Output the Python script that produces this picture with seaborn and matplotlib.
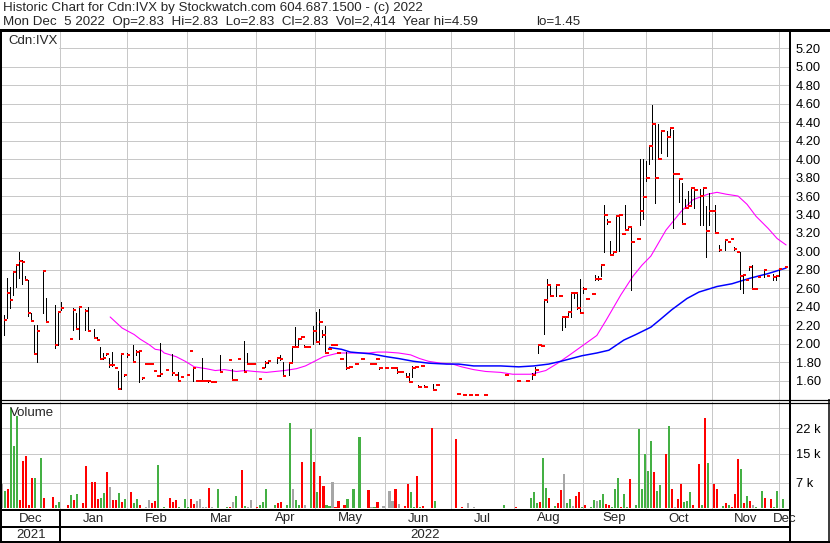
import numpy as np
import pandas as pd
import seaborn as sns
import matplotlib
matplotlib.use("Agg")
import matplotlib.pyplot as plt
from matplotlib.patches import Rectangle

# trading sessions, counted as weekdays from Mon 6 Dec 2021
day = [0, 1, 2, 3, 4, 5, 6, 7, 8, 9, 10, 11, 13, 14, 17, 18, 19,
       22, 23, 24, 25, 27, 28, 30, 31, 32, 33, 34, 35, 36, 37, 38, 39, 40,
       41, 43, 44, 45, 46, 47, 48, 49, 50, 51, 52, 54, 56, 57, 58, 59,
       61, 62, 63, 64, 65, 66, 67, 68, 69, 70, 72, 75, 76, 77, 78, 80, 81, 82, 83,
       85, 86, 87, 88, 91, 92, 93, 95, 96, 97, 98, 99, 100, 101, 103,
       104, 105, 106, 107, 108, 109, 110, 111, 112, 114, 115, 117, 119, 122, 123, 124, 125, 127,
       129, 130, 131, 132, 134, 135, 136, 137, 138, 139, 140, 143, 144,
       151, 153, 155, 157, 160, 167,
       171, 174, 176, 177, 178, 179, 180, 181, 182, 184, 185, 186, 187, 188, 189, 190, 191, 192,
       193, 194, 196, 197, 198, 199, 200, 201, 202, 203, 204, 205, 206, 207, 208, 209, 211, 212, 213, 214,
       215, 216, 217, 218, 219, 221, 222, 223, 224, 225, 226, 227, 228, 229, 230, 232, 233, 234, 235,
       236, 237, 238, 240, 241, 242, 243, 244, 245, 246, 247, 248, 249, 250, 251, 253, 254, 256, 257, 258,
       260]

high = [2.31, 2.71, 2.61, 2.79, 2.86, 2.99, 2.91, 2.73, 2.69, 2.33, 2.20, 2.20, 2.80, 2.50, 2.42, 2.34, 2.45,
        2.06, 2.39, 2.33, 2.40, 2.38, 2.40, 2.16, 2.07, 1.97, 1.90, 1.90, 1.85, 1.91, 1.74, 1.70, 1.89, 1.67,
        1.90, 1.99, 1.93, 1.93, 1.64, 1.78, 1.78, 1.78, 1.71, 1.65, 2.01, 1.72, 1.89, 1.66, 1.69, 1.64,
        1.66, 1.92, 1.75, 1.60, 1.60, 1.85, 1.60, 1.61, 1.59, 1.59, 1.88, 1.82, 1.73, 1.61, 1.85, 2.03, 1.90, 1.78, 1.78,
        1.62, 1.74, 1.81, 1.81, 1.86, 1.88, 1.80, 1.79, 1.97, 2.18, 2.06, 2.08, 1.99, 1.97, 2.19,
        2.34, 2.38, 2.15, 2.19, 1.94, 1.99, 1.99, 1.90, 1.83, 1.91, 1.75, 1.78, 1.83, 1.78, 1.78, 1.83, 1.75, 1.74,
        1.74, 1.74, 1.74, 1.69, 1.68, 1.68, 1.76, 1.75, 1.55, 1.76, 1.55, 1.56, 1.55,
        1.46, 1.45, 1.45, 1.45, 1.45, 1.66,
        1.60, 1.60, 1.68, 1.75, 2.00, 1.98, 2.47, 2.70, 2.64, 2.64, 2.52, 2.29, 2.29, 2.34, 2.55, 2.55, 2.55, 2.70,
        2.62, 2.49, 2.54, 2.74, 2.73, 2.85, 3.50, 3.35, 3.11, 3.00, 3.39, 3.39, 3.19, 3.50, 3.27, 3.26, 3.13, 4.00, 4.00, 3.98,
        4.14, 4.59, 4.38, 4.38, 4.32, 4.30, 4.34, 4.32, 3.84, 3.79, 3.74, 3.57, 3.65, 3.70, 3.69, 3.68, 3.69, 3.49, 3.63,
        3.44, 3.50, 3.07, 3.12, 3.10, 3.13, 3.05, 3.00, 2.99, 2.76, 2.69, 2.84, 2.85, 2.59, 2.72, 2.80, 2.73, 2.76, 2.73, 2.81,
        2.83]

low = [2.09, 2.28, 2.39, 2.53, 2.61, 2.71, 2.65, 2.69, 2.30, 2.25, 1.89, 1.80, 2.33, 2.24, 1.95, 1.99, 2.37,
       2.05, 2.15, 2.16, 2.05, 2.15, 2.14, 2.06, 2.04, 1.84, 1.84, 1.88, 1.75, 1.76, 1.74, 1.51, 1.51, 1.65,
       1.86, 1.80, 1.88, 1.59, 1.62, 1.78, 1.78, 1.78, 1.70, 1.65, 1.65, 1.72, 1.66, 1.66, 1.60, 1.64,
       1.66, 1.92, 1.60, 1.60, 1.60, 1.60, 1.60, 1.59, 1.59, 1.59, 1.69, 1.82, 1.61, 1.61, 1.84, 1.69, 1.78, 1.78, 1.78,
       1.62, 1.74, 1.75, 1.79, 1.79, 1.82, 1.65, 1.66, 1.79, 1.97, 1.97, 2.05, 1.97, 1.97, 2.00,
       2.02, 2.00, 2.07, 1.90, 1.94, 1.99, 1.99, 1.90, 1.83, 1.73, 1.75, 1.78, 1.83, 1.78, 1.78, 1.83, 1.73, 1.74,
       1.74, 1.74, 1.68, 1.69, 1.64, 1.59, 1.64, 1.75, 1.53, 1.76, 1.53, 1.50, 1.55,
       1.46, 1.45, 1.45, 1.45, 1.45, 1.66,
       1.60, 1.60, 1.62, 1.66, 1.90, 1.98, 2.11, 2.45, 2.52, 2.52, 2.52, 2.15, 2.18, 2.31, 2.29, 2.50, 2.38, 2.33,
       2.55, 2.49, 2.54, 2.69, 2.69, 2.73, 2.99, 3.30, 2.96, 2.97, 2.99, 3.00, 3.19, 3.23, 3.24, 2.58, 3.13, 3.29, 3.35, 3.76,
       3.95, 4.00, 3.52, 4.00, 4.07, 4.03, 4.24, 3.25, 3.84, 3.54, 3.30, 3.47, 3.48, 3.50, 3.47, 3.29, 3.29, 2.94, 3.29,
       3.44, 3.20, 3.00, 3.02, 3.10, 3.13, 3.02, 2.99, 2.59, 2.55, 2.69, 2.80, 2.59, 2.59, 2.72, 2.72, 2.73, 2.69, 2.69, 2.73,
       2.83]

close = [2.26, 2.55, 2.47, 2.78, 2.85, 2.90, 2.89, 2.69, 2.33, 2.25, 1.89, 2.14, 2.79, 2.24, 1.99, 2.34, 2.39,
         2.05, 2.37, 2.16, 2.40, 2.36, 2.14, 2.06, 2.04, 1.84, 1.85, 1.89, 1.77, 1.77, 1.74, 1.51, 1.89, 1.66,
         1.88, 1.80, 1.91, 1.92, 1.63, 1.78, 1.78, 1.78, 1.70, 1.65, 1.67, 1.72, 1.68, 1.66, 1.60, 1.64,
         1.66, 1.92, 1.74, 1.60, 1.60, 1.60, 1.60, 1.60, 1.59, 1.59, 1.69, 1.82, 1.61, 1.61, 1.84, 1.69, 1.78, 1.78, 1.78,
         1.62, 1.74, 1.79, 1.81, 1.85, 1.83, 1.65, 1.79, 1.97, 1.97, 2.05, 2.07, 1.97, 1.97, 2.14,
         2.02, 2.24, 2.09, 1.90, 1.94, 1.99, 1.99, 1.90, 1.83, 1.74, 1.75, 1.78, 1.83, 1.78, 1.78, 1.83, 1.74, 1.74,
         1.74, 1.74, 1.69, 1.69, 1.64, 1.59, 1.74, 1.75, 1.53, 1.76, 1.53, 1.50, 1.55,
         1.46, 1.45, 1.45, 1.45, 1.45, 1.66,
         1.60, 1.60, 1.66, 1.72, 1.99, 1.98, 2.47, 2.64, 2.52, 2.64, 2.52, 2.29, 2.29, 2.34, 2.55, 2.55, 2.39, 2.33,
         2.59, 2.49, 2.54, 2.70, 2.70, 2.85, 3.39, 3.32, 2.96, 2.99, 3.38, 3.39, 3.19, 3.23, 3.26, 3.10, 3.13, 3.44, 3.59, 3.79,
         4.14, 4.38, 3.79, 4.00, 4.30, 4.24, 4.34, 3.84, 3.84, 3.78, 3.30, 3.47, 3.49, 3.69, 3.67, 3.60, 3.69, 3.22, 3.44,
         3.44, 3.20, 3.01, 3.12, 3.10, 3.13, 3.03, 2.99, 2.73, 2.74, 2.69, 2.83, 2.59, 2.59, 2.72, 2.80, 2.73, 2.72, 2.73, 2.81,
         2.83]

# volume in thousands of shares
volume = [6.5, 4.7, 5.2, 27.7, 17.1, 25.5, 2.2, 13.0, 14.4, 0.8, 8.4, 8.4, 13.9, 2.8, 3.1, 0.8, 1.7,
          0.8, 3.6, 2.2, 3.9, 1.5, 11.6, 7.3, 7.3, 2.6, 2.8, 4.2, 9.9, 5.9, 2.2, 2.2, 4.2, 1.7,
          2.5, 4.4, 1.5, 2.4, 0.8, 0.1, 0.4, 2.2, 1.5, 1.9, 11.9, 0.2, 2.8, 1.6, 2.2, 0.3,
          2.5, 0.2, 2.5, 1.1, 1.9, 2.5, 0.2, 0.2, 5.6, 0.3, 5.2, 0.2, 0.2, 1.7, 3.3, 10.5, 0.6, 0.2, 2.2,
          0.3, 0.8, 1.7, 5.2, 0.8, 1.3, 1.6, 0.8, 23.6, 5.2, 2.2, 0.8, 12.8, 0.8, 21.9,
          12.8, 4.4, 8.9, 6.2, 0.8, 0.5, 7.2, 0.3, 1.9, 0.8, 2.5, 5.2, 19.6, 5.0, 0.2, 0.2, 1.7, 0.6,
          4.7, 1.9, 5.2, 1.0, 0.6, 6.5, 4.3, 0.2, 8.8, 0.2, 0.6, 22.2, 1.9,
          19.1, 0.2, 1.5, 0.3, 0.1, 0.8,
          0.2, 0.1, 2.8, 4.4, 1.3, 1.7, 13.9, 5.4, 2.8, 0.5, 1.3, 5.0, 9.4, 1.3, 2.5, 0.5, 3.4, 4.4,
          0.3, 0.8, 0.3, 2.2, 2.0, 2.2, 3.8, 1.1, 0.8, 0.2, 5.2, 8.4, 0.2, 3.9, 0.3, 8.0, 0.8, 21.8, 5.2, 14.8,
          10.2, 18.5, 9.9, 4.7, 6.4, 14.9, 22.7, 5.2, 0.2, 2.6, 6.6, 1.7, 1.9, 4.4, 0.8, 12.2, 0.8, 24.9, 12.4,
          0.1, 6.6, 5.2, 0.5, 1.4, 0.8, 0.2, 3.9, 13.5, 10.8, 1.5, 3.3, 1.9, 0.8, 0.3, 4.7, 2.8, 2.6, 0.2, 4.7,
          2.4]

# moving averages (session, price)
ma_fast_day = [36, 40, 44, 46, 48, 49, 51, 53, 54, 58, 61, 64, 68, 71, 74, 78, 81, 84, 88, 91, 94, 98,
               101, 104, 107, 112, 116, 122, 125, 128, 132, 136, 139, 142, 146, 150, 153, 157, 161, 166,
               170, 176, 181, 185, 189, 195, 198, 201, 206, 210, 213, 216, 221, 226, 230, 235, 238, 241,
               245, 248, 251, 255, 258, 261]
ma_fast = [2.29, 2.17, 2.10, 2.05, 2.01, 1.99, 1.94, 1.93, 1.90, 1.86, 1.81, 1.75, 1.73, 1.71, 1.72, 1.70,
           1.71, 1.70, 1.69, 1.70, 1.71, 1.73, 1.76, 1.81, 1.86, 1.90, 1.90, 1.90, 1.91, 1.91, 1.90, 1.88,
           1.84, 1.81, 1.79, 1.78, 1.75, 1.72, 1.70, 1.69, 1.67, 1.67, 1.71, 1.79, 1.88, 2.02, 2.09, 2.25,
           2.53, 2.73, 2.85, 2.95, 3.23, 3.43, 3.56, 3.62, 3.64, 3.62, 3.60, 3.51, 3.38, 3.25, 3.14, 3.07]

ma_slow_day = [109, 113, 116, 123, 128, 132, 137, 142, 148, 152, 157, 166, 172, 177, 182, 186, 193, 198,
               202, 207, 211, 216, 219, 223, 228, 232, 238, 243, 249, 255, 261]
ma_slow = [1.96, 1.94, 1.91, 1.89, 1.86, 1.84, 1.81, 1.79, 1.78, 1.78, 1.76, 1.76, 1.75, 1.76, 1.78, 1.81,
           1.87, 1.90, 1.93, 2.04, 2.10, 2.18, 2.26, 2.37, 2.49, 2.56, 2.62, 2.65, 2.71, 2.76, 2.82]

month_names = ["Dec", "Jan", "Feb", "Mar", "Apr", "May", "Jun", "Jul", "Aug", "Sep", "Oct", "Nov", "Dec"]
price_ticks = [1.60, 1.80, 2.00, 2.20, 2.40, 2.60, 2.80, 3.00, 3.20, 3.40, 3.60, 3.80,
               4.00, 4.20, 4.40, 4.60, 4.80, 5.00, 5.20]
vol_ticks = [7, 15, 22]
vol_labels = ["7 k", "15 k", "22 k"]

title1 = "Historic Chart for Cdn:IVX by Stockwatch.com 604.687.1500 - (c) 2022"
title2 = "Mon Dec  5 2022  Op=2.83  Hi=2.83  Lo=2.83  Cl=2.83  Vol=2,414  Year hi=4.59"
title2_tail = "lo=1.45"

# ---------------------------------------------------------------------------
sns.set_style("white")
plt.rcParams['font.family'] = ['Liberation Sans', 'DejaVu Sans']

W, H = 830, 543
PT = 0.72  # points per pixel at 100 dpi
fig = plt.figure(figsize=(W / 100, H / 100), dpi=100)

df = pd.DataFrame({"day": day, "high": high, "low": low, "close": close, "vol": volume})
chg = df["close"].diff()
df["col"] = np.where(chg > 0, "#44b044", np.where(chg < 0, "#ff0000", "#a6a6a6"))

# month boundaries on the weekday axis
sessions = pd.bdate_range("2021-12-06", "2022-12-05")
bounds = []
for m in pd.date_range("2022-01-01", "2022-12-01", freq="MS"):
    k = int(np.searchsorted(sessions, m))
    bounds.append(k + 0.5 if m.weekday() < 5 else k - 0.75)
x0, x1 = 0.0, 262.3


def px(x):
    return 2 + (x - x0) / (x1 - x0) * 788


ax_p = fig.add_axes([2 / W, 1 - 400 / H, 788 / W, 369 / H])
ax_v = fig.add_axes([2 / W, 1 - 509 / H, 788 / W, 107 / H])

for ax in (ax_p, ax_v):
    ax.set_xlim(x0, x1)
    ax.set_xticks(bounds)
    ax.tick_params(axis='x', length=0, labelbottom=False)
    ax.grid(True, color="#c8c8c8", lw=1 * PT, antialiased=False)
    ax.set_axisbelow(True)
    for s in ax.spines.values():
        s.set_visible(False)
    ax.yaxis.tick_right()
    ax.tick_params(axis='y', length=0, pad=4, labelsize=9.3, labelcolor='black')

# price panel
ax_p.set_ylim(1.391, 5.387)
ax_p.set_yticks(price_ticks)
ax_p.set_yticklabels(["%.2f" % v for v in price_ticks])
sns.lineplot(x=ma_fast_day, y=ma_fast, ax=ax_p, color="#ff00ff", lw=1.1 * PT)
sns.lineplot(x=ma_slow_day, y=ma_slow, ax=ax_p, color="#0000ff", lw=1.5 * PT)
ax_p.vlines(df["day"] + 0.5, df["low"], df["high"], color="black", lw=1.0 * PT,
            antialiased=False, zorder=3)
ax_p.hlines(df["close"], df["day"] + 0.5, df["day"] + 1.7, color="#ff0000", lw=2.0 * PT,
            antialiased=False, zorder=4)
ax_p.set_xlabel("")
ax_p.set_ylabel("")

# volume panel
ax_v.bar(df["day"], df["vol"], width=0.7, color=df["col"], linewidth=0,
         antialiased=False, zorder=3)
ax_v.set_ylim(-0.28, 29.3)
ax_v.set_yticks(vol_ticks)
ax_v.set_yticklabels(vol_labels)

# frame, headings and date rows drawn in pixel space
ov = fig.add_axes([0, 0, 1, 1], facecolor="none")
ov.set_xlim(0, W)
ov.set_ylim(H, 0)
ov.axis("off")

ov.add_patch(Rectangle((2, 31), 56, 18, color="white", zorder=1))
ov.text(8, 41, "Cdn:IVX", fontsize=9.5, va="center", ha="left", zorder=2)
ov.text(10, 413, "Volume", fontsize=9.5, va="center", ha="left", zorder=2)

ov.text(3, 8, title1, fontsize=9.6, va="center", ha="left")
ov.text(3, 22, title2, fontsize=9.6, va="center", ha="left")
ov.text(580, 22, title2_tail, fontsize=9.6, va="center", ha="right")

k = dict(color="black", solid_capstyle="butt")
ov.plot([0, W], [30, 30], lw=3 * PT, **k)
ov.plot([1, 1], [29, H], lw=2 * PT, **k)
ov.plot([790, 790], [29, H], lw=2 * PT, **k)
ov.plot([829, 829], [399, H], lw=1.5 * PT, **k)
ov.plot([0, W], [399.5, 399.5], lw=1.2 * PT, **k)
ov.plot([0, W], [402.5, 402.5], lw=1.2 * PT, **k)
ov.plot([0, 790], [509.5, 509.5], lw=2 * PT, **k)
ov.plot([0, 790], [526.5, 526.5], lw=2 * PT, **k)
ov.plot([0, W], [541.5, 541.5], lw=2 * PT, **k)
ov.plot([px(bounds[0])] * 2, [510, 542], lw=2 * PT, **k)

edges = [x0] + bounds + [x1]
for name, a, b in zip(month_names, edges[:-1], edges[1:]):
    ov.text(px((a + b) / 2), 518.5, name, fontsize=9.5, ha="center", va="center")
ov.text(px((x0 + bounds[0]) / 2), 535, "2021", fontsize=9.5, ha="center", va="center")
ov.text(px((bounds[0] + x1) / 2), 535, "2022", fontsize=9.5, ha="center", va="center")

fig.savefig("out.png", dpi=100)
